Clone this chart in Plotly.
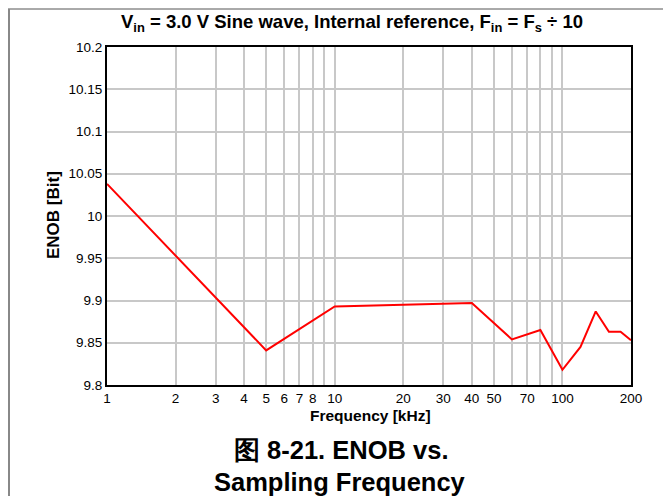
import plotly.graph_objects as go

freq_khz = [1, 5, 10, 40, 60, 80, 100, 120, 140, 160, 180, 200]
enob_bit = [10.038, 9.841, 9.893, 9.897, 9.854, 9.865, 9.818, 9.845, 9.887, 9.863, 9.863, 9.853]

x_ticks = [1, 2, 3, 4, 5, 6, 7, 8, 10, 20, 30, 40, 50, 70, 100, 200]
x_labels = ["1", "2", "3", "4", "5", "6", "7", "8", "10", "20", "30", "40", "50", "70", "100", "200"]
x_unlabelled_grid = [9, 60, 80, 90]
y_ticks = [9.8, 9.85, 9.9, 9.95, 10.0, 10.05, 10.1, 10.15, 10.2]
y_labels = ["9.8", "9.85", "9.9", "9.95", "10", "10.05", "10.1", "10.15", "10.2"]

OFF = 8  # page body margin
W, H = 655, 488
# plot area in page pixels: x 107..631, y 47..385
L, T = 107 - OFF, 47 - OFF
R = W - (631 - OFF)
B = H - (385 - OFF)
PW, PH = W - L - R, H - T - B

def px(x):
    return (x - OFF - L) / PW

def py(y):
    return (H - B - (y - OFF)) / PH

fig = go.Figure()
fig.add_trace(go.Scatter(x=freq_khz, y=enob_bit, mode="lines",
                         line=dict(color="#ff0000", width=2), showlegend=False))

font = "Liberation Sans, Arial, sans-serif"
fig.update_layout(
    width=W, height=H,
    margin=dict(l=L, r=R, t=T, b=B, pad=0),
    paper_bgcolor="white", plot_bgcolor="white",
    font=dict(family=font, size=13.5, color="black"),
    xaxis=dict(type="log", range=[0, 2.30103], tickvals=x_ticks, ticktext=x_labels,
               showgrid=True, gridcolor="#c8c8c8", gridwidth=1.5,
               minor=dict(tickvals=x_unlabelled_grid, showgrid=True, gridcolor="#c8c8c8",
                          gridwidth=1.5, ticks=""),
               showline=True, linecolor="black", linewidth=2, mirror=True,
               ticks="", ticklen=0, zeroline=False, tickfont=dict(size=13.5)),
    yaxis=dict(range=[9.8, 10.2], tickvals=y_ticks, ticktext=y_labels,
               showgrid=True, gridcolor="#c8c8c8", gridwidth=1.5,
               showline=True, linecolor="black", linewidth=2, mirror=True,
               ticks="", zeroline=False, tickfont=dict(size=13.5)),
)

ann = [
    dict(text="<b>V<sub>in</sub> = 3.0 V Sine wave, Internal reference, F<sub>in</sub> = F<sub>s</sub> ÷ 10</b>",
         x=px(352), y=py(23), size=18.5),
    dict(text="<b>Frequency [kHz]</b>", x=px(370), y=py(415), size=15.5),
    dict(text="<b>图 8-21. ENOB vs.</b>", x=px(341), y=py(450), size=25.5),
    dict(text="<b>Sampling Frequency</b>", x=px(340), y=py(482), size=25.5),
]
for a in ann:
    fig.add_annotation(text=a["text"], x=a["x"], y=a["y"], xref="paper", yref="paper",
                       showarrow=False, xanchor="center", yanchor="middle",
                       font=dict(size=a["size"], family=font, color="black"))
fig.add_annotation(text="<b>ENOB [Bit]</b>", x=px(53), y=py(215), xref="paper", yref="paper",
                   showarrow=False, textangle=-90, xanchor="center", yanchor="middle",
                   font=dict(size=17, family=font, color="black"))

fig.add_shape(type="line", xref="paper", yref="paper", x0=px(8), x1=px(671), y0=py(9), y1=py(9),
              line=dict(color="#555555", width=1))
fig.add_shape(type="line", xref="paper", yref="paper", x0=px(9), x1=px(9), y0=py(9), y1=py(504),
              line=dict(color="#888888", width=2))

fig.write_html("out.html")
